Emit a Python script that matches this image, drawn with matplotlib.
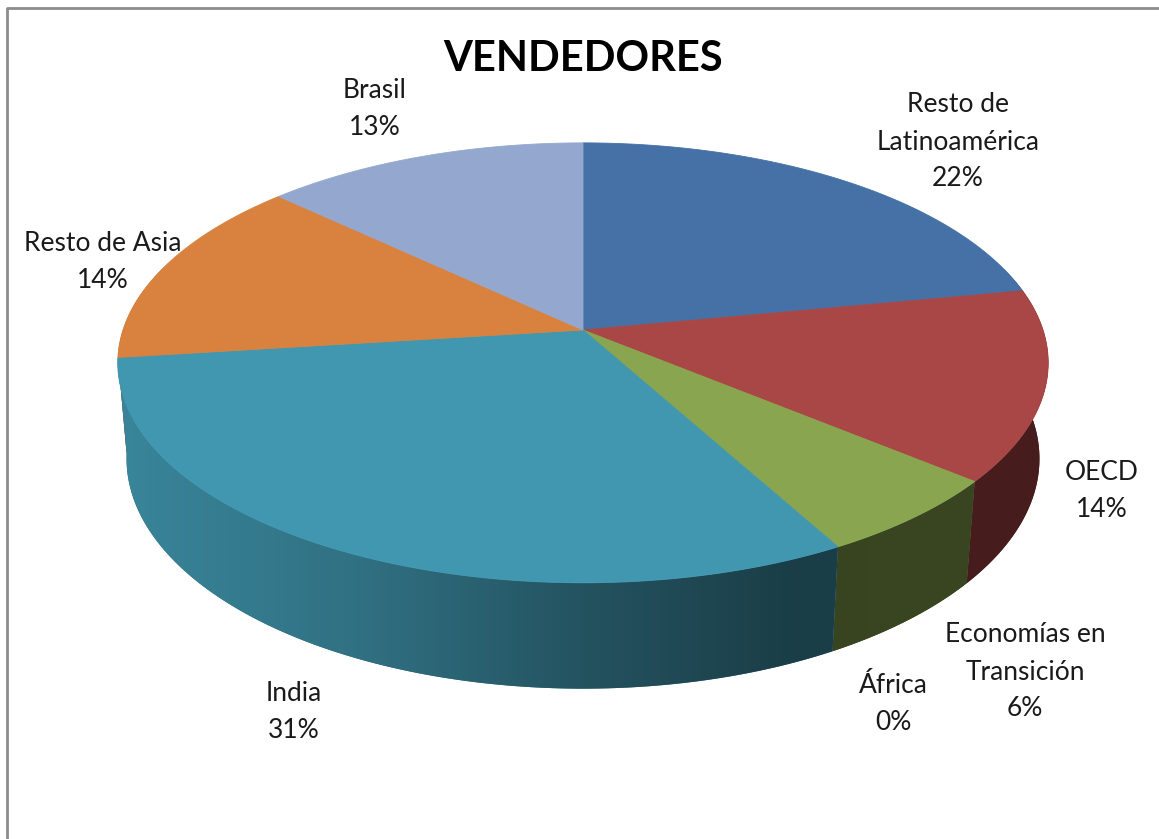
"""3D pie chart of sellers (VENDEDORES) by region, drawn with plain matplotlib."""

import matplotlib

matplotlib.use("Agg")

import matplotlib.pyplot as plt
import numpy as np
from matplotlib.lines import Line2D
from matplotlib.patches import Polygon


TITLE = "VENDEDORES"
LABELS = [
    "Resto de\nLatinoamérica",
    "OECD",
    "Economías en\nTransición",
    "África",
    "India",
    "Resto de Asia",
    "Brasil",
]
SHARES = [22, 14, 6, 0, 31, 14, 13]
TOP_COLORS = ["#4571a6", "#a84745", "#8aa54f", "#7e5a9b", "#4197af", "#d9823f", "#94a8cf"]

# label centres, in pixels of the 1159x839 canvas
LABEL_POS = [(958, 142), (1102, 491), (1025, 672), (893, 704), (294, 712), (103, 262), (375, 109)]

W, H = 1159, 839
CX, CY, SCALE = 583, 330, 460
ELEV = np.arcsin(0.4675)
FOCAL = 5.92
DEPTH = 0.238
STEP = np.radians(0.5)


def project(angle, z=0.0):
    """Perspective projection of a point on the unit disc (z up) to pixels."""
    x = np.cos(angle)
    y = np.sin(angle)
    v = y * np.sin(ELEV) + z * np.cos(ELEV)
    w = y * np.cos(ELEV) - z * np.sin(ELEV)
    s = FOCAL / (FOCAL + w)
    return CX + SCALE * x * s, CY - SCALE * v * s


def side_shade(cos_a):
    """Darkening factor for the rim, lighter on the left, darker on the right."""
    return np.interp(cos_a, [-1, -0.5, 0, 0.45, 1], [0.88, 0.75, 0.55, 0.41, 0.42])


def arc(a0, a1, z=0.0):
    n = max(2, int(abs(a0 - a1) / STEP))
    return [project(a, z) for a in np.linspace(a0, a1, n + 1)]


def main() -> None:
    fig = plt.figure(figsize=(W / 100, H / 100), dpi=100)
    ax = fig.add_axes([0, 0, 1, 1])
    ax.axis("off")

    total = sum(SHARES)
    bounds = np.cumsum([0] + SHARES) / total
    # Excel starts at 12 o'clock and goes clockwise
    starts = np.pi / 2 - 2 * np.pi * bounds[:-1]
    ends = np.pi / 2 - 2 * np.pi * bounds[1:]

    # rim: one polygon per slice over the front half, filled with a
    # left-to-right gradient clipped to that polygon
    gx = np.linspace(100, 1070, 600)
    gfac = side_shade(np.clip((gx - CX) / SCALE, -1, 1))
    rims = []
    for a0, a1, color in zip(starts, ends, TOP_COLORS):
        hi = min(a0, 0.3)
        lo = max(a1, -np.pi - 0.3)
        if lo >= hi:
            continue
        pts = arc(hi, lo) + arc(lo, hi, -DEPTH)
        rims.append((np.sin((hi + lo) / 2), pts, color))
    rims.sort(key=lambda item: -item[0])
    for _, pts, color in rims:
        rgb = np.array(matplotlib.colors.to_rgb(color))
        grad = np.clip(rgb[None, :] * gfac[:, None], 0, 1)[None, :, :]
        mid_x = np.mean([p[0] for p in pts])
        base = tuple(rgb * side_shade(np.clip((mid_x - CX) / SCALE, -1, 1)))
        poly = Polygon(pts, closed=True, facecolor=base, edgecolor="none")
        ax.add_patch(poly)
        im = ax.imshow(grad, extent=(gx[0], gx[-1], 720, 280), aspect="auto",
                       interpolation="bilinear", zorder=1)
        im.set_clip_path(poly)

    # top faces
    for a0, a1, color in zip(starts, ends, TOP_COLORS):
        if a0 == a1:
            continue
        pts = [(CX, CY)] + arc(a0, a1)
        ax.add_patch(Polygon(pts, closed=True, facecolor=color, edgecolor=color,
                             linewidth=0.6, zorder=2))

    for label, share, (x, y) in zip(LABELS, SHARES, LABEL_POS):
        ax.text(x, y, f"{label}\n{share}%", ha="center", va="center",
                fontsize=19, family="Lato", color="#1a1a1a", linespacing=1.6, zorder=3)

    ax.text(583, 59, TITLE, ha="center", va="center", fontsize=30,
            family="Lato", fontweight="bold", color="black", zorder=3)

    ax.set_xlim(0, W)
    ax.set_ylim(H, 0)

    # chart area border (only left and top edges are visible in the crop)
    fig.add_artist(Line2D([7 / W, 7 / W, 1], [0, 1 - 8 / H, 1 - 8 / H],
                          transform=fig.transFigure, color="#8c8c8c", linewidth=2))

    fig.savefig("out.png", dpi=100)
    plt.close(fig)


if __name__ == "__main__":
    main()
